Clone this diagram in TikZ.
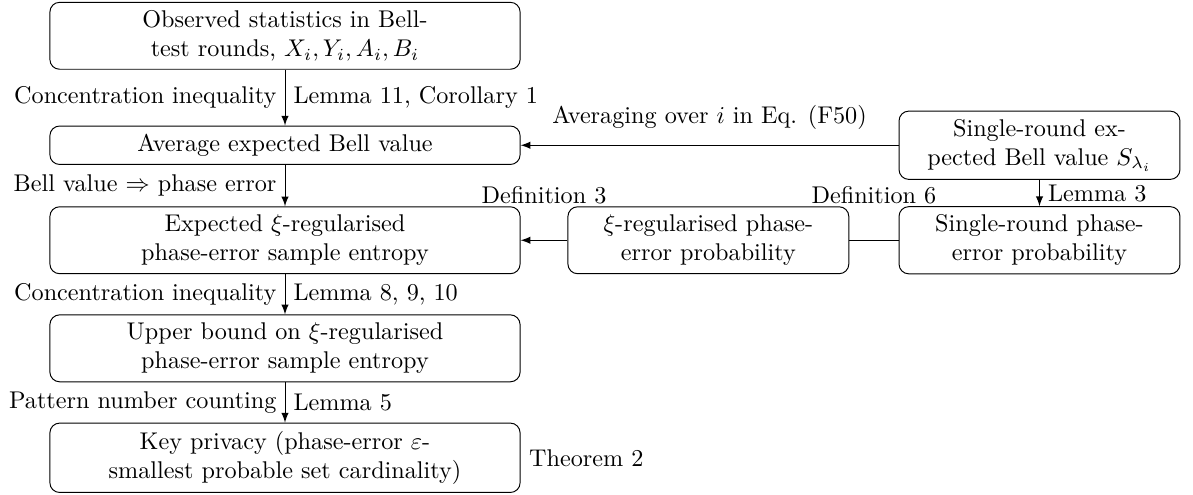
\documentclass[tikz,border=0pt]{standalone}
\usepackage{tikz}

\begin{document}
\begin{tikzpicture}[bigbox/.style={draw, rounded corners, align=center, minimum width=6.83cm},
  smallbox/.style={draw, rounded corners, align=center, minimum width=4.08cm}]

\useasboundingbox (0,0) rectangle (17.33,7.19);

%% Left column
\node [bigbox] (obs) at (4.14,6.67) {Observed statistics in Bell-\\test rounds, $X_i, Y_i, A_i, B_i$};
\node [bigbox] (avg) at (4.14,5.08) {Average expected Bell value};
\node [bigbox] (expd) at (4.14,3.70) {Expected $\xi$-regularised\\phase-error sample entropy};
\node [bigbox] (upper) at (4.14,2.13) {Upper bound on $\xi$-regularised\\phase-error sample entropy};
\node [bigbox] (key) at (4.14,0.54) {Key privacy (phase-error $\varepsilon$-\\smallest probable set cardinality)};

%% Right part
\node [smallbox] (single) at (15.10,5.08) {Single-round ex-\\pected Bell value $S_{\lambda_i}$};
\node [smallbox] (sprob) at (15.10,3.70) {Single-round phase-\\error probability};
\node [smallbox] (xiprob) at (10.29,3.70) {$\xi$-regularised phase-\\error probability};

%% Down the left column
\draw [-latex] (obs) -- node [left] {Concentration inequality} node [right] {Lemma 11, Corollary 1} (avg);
\draw [-latex] (avg) -- node [left] {Bell value $\Rightarrow$ phase error} (expd);
\draw [-latex] (expd) -- node [left] {Concentration inequality} node [right] {Lemma 8, 9, 10} (upper);
\draw [-latex] (upper) -- node [left] {Pattern number counting} node [right] {Lemma 5} (key);
\node [right] (thm) at (key.east) {Theorem 2};

%% From the single-round quantities
\draw [-latex] (single) -- node [above=3pt] {Averaging over $i$ in Eq. (F50)} (avg);
\draw [-latex] (single) -- node [right] {Lemma 3} (sprob);
\draw (sprob) -- node [above=11.5pt] {Definition 6} (xiprob);
\draw [-latex] (xiprob) -- node [above=11.5pt] {Definition 3} (expd);

\end{tikzpicture}
\end{document}
